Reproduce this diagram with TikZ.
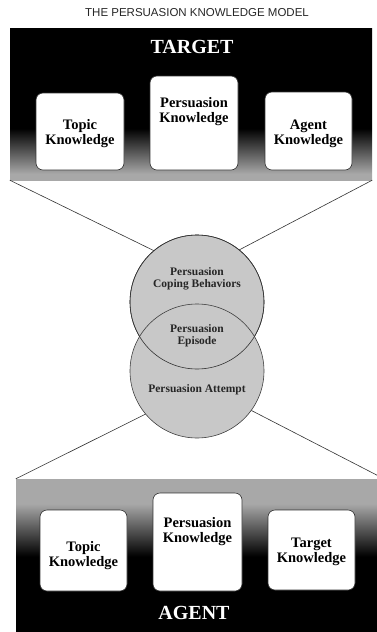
\documentclass[tikz,border=0pt]{standalone}
\usepackage{fontspec}
\setmainfont{Liberation Serif}
\newfontfamily\titlefont{Liberation Sans}
\usetikzlibrary{positioning}
\definecolor{panelgray}{RGB}{168,168,168}
\definecolor{discgray}{RGB}{200,200,200}
% panel shadings, the box maps onto 25bp--75bp
\pgfdeclareverticalshading{targetshade}{100bp}{color(0bp)=(panelgray); color(27bp)=(panelgray); color(42bp)=(black); color(100bp)=(black)}
\pgfdeclareverticalshading{agentshade}{100bp}{color(0bp)=(black); color(50bp)=(black); color(67bp)=(panelgray); color(100bp)=(panelgray)}
\begin{document}
\begin{tikzpicture}[x=1pt,y=-1pt,
  knowbox/.style={draw=black!80, fill=white, rounded corners=7pt, line width=0.6pt, inner sep=0pt},
  boxtext/.style={font=\bfseries\fontsize{14.5}{15}\selectfont, align=center, inner sep=0pt, anchor=north},
  roletext/.style={font=\bfseries\fontsize{20}{22}\selectfont, text=white, inner sep=0pt},
  disc/.style={circle, fill=discgray, draw=black!75, line width=0.6pt, minimum size=134pt, inner sep=0pt},
  disctext/.style={font=\bfseries\fontsize{11.5}{12}\selectfont, align=center, inner sep=0pt, text=black!85},
  link/.style={draw=black!80, line width=0.6pt}]
\useasboundingbox (0,0) rectangle (376,632);

\node[font=\titlefont\fontsize{11.5}{12}\selectfont, text=black!85] (title) at (197,13) {THE PERSUASION KNOWLEDGE MODEL};

% target panel
\node[shade, shading=targetshade, minimum width=362pt, minimum height=152pt, inner sep=0pt] (target) at (191,104) {};
\node[roletext] (targetlab) at (192,47) {TARGET};
\node[knowbox, minimum width=88pt, minimum height=77pt] (ttopic) at (80,131.5) {};
\node[boxtext, below=27pt of ttopic.north] (ttopiclab) {Topic\\Knowledge};
\node[knowbox, minimum width=88pt, minimum height=94pt] (tpers) at (194,123) {};
\node[boxtext, below=22pt of tpers.north] (tperslab) {Persuasion\\Knowledge};
\node[knowbox, minimum width=87pt, minimum height=78pt] (tagent) at (308.5,131) {};
\node[boxtext, below=28pt of tagent.north] (tagentlab) {Agent\\Knowledge};

% agent panel
\node[shade, shading=agentshade, minimum width=362pt, minimum height=155pt, inner sep=0pt] (agent) at (197,556.5) {};
\node[roletext] (agentlab) at (194,613) {AGENT};
\node[knowbox, minimum width=87pt, minimum height=81pt] (atopic) at (83.5,550.5) {};
\node[boxtext, below=32pt of atopic.north] (atopiclab) {Topic\\Knowledge};
\node[knowbox, minimum width=89pt, minimum height=98pt] (apers) at (197.5,542) {};
\node[boxtext, below=25pt of apers.north] (aperslab) {Persuasion\\Knowledge};
\node[knowbox, minimum width=87pt, minimum height=80pt] (atarget) at (311.5,550) {};
\node[boxtext, below=28pt of atarget.north] (atargetlab) {Target\\Knowledge};

% circles and the lines behind them
\coordinate (coping) at (197,302);
\coordinate (attempt) at (197,371);
\draw[link] (target.south west) -- ([shift={(130:67pt)}]coping);
\draw[link] (target.south east) -- ([shift={(51:67pt)}]coping);
\draw[link] (agent.north west) -- ([shift={(220:67pt)}]attempt);
\draw[link] ([yshift=3pt]agent.north east) -- ([shift={(324:67pt)}]attempt);
\node[disc] (copingdisc) at (coping) {};
\node[disc] (attemptdisc) at (attempt) {};
\draw[link] (coping) circle[radius=67pt];

\node[disctext] (copinglab) at (197,279) {Persuasion\\Coping Behaviors};
\node[disctext] (episodelab) at (197,336) {Persuasion\\Episode};
\node[disctext] (attemptlab) at (197,390) {Persuasion Attempt};
\end{tikzpicture}
\end{document}
